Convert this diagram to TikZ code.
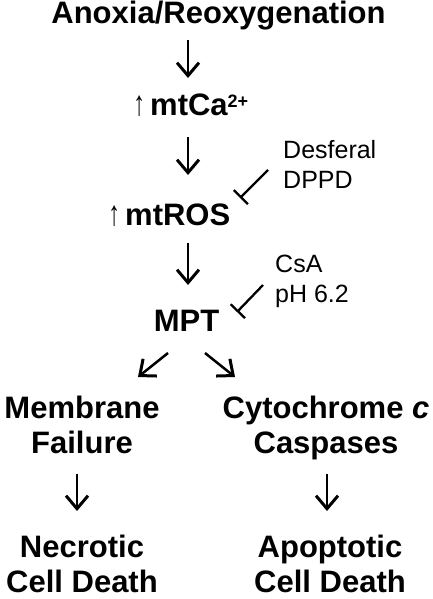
\documentclass[tikz,border=0pt]{standalone}
\usepackage{fontspec}
\setmainfont{Liberation Sans}
\usetikzlibrary{arrows.meta,calc}
\newcommand{\uparr}{\makebox[22pt][c]{\mdseries\scalebox{0.9}[1.35]{\fontsize{26}{28}\selectfont ↑}}}
\tikzset{
  bt/.style={font=\fontsize{31}{35}\selectfont\bfseries, inner sep=0pt, anchor=base},
  nt/.style={font=\fontsize{25}{30}\selectfont, inner sep=0pt, anchor=base west},
  arr/.style={line width=2.5pt, -{Straight Barb[length=13pt,width=22pt,line width=3pt]}},
  inh/.style={line width=2.3pt, -{Bar[width=20pt]}}
}
\begin{document}
\begin{tikzpicture}[x=1pt,y=-1pt]
\useasboundingbox (0,0) rectangle (433,599);
\node[bt] (anox) at (218.5,24) {Anoxia/Reoxygenation};
\node[bt, anchor=base west] (ca) at (128,115) {\uparr mtCa\raisebox{8pt}{\fontsize{18}{20}\selectfont 2+}};
\node[bt, anchor=base west] (ros) at (103,225) {\uparr mtROS};
\node[bt] (mpt) at (186.5,331) {MPT};
\node[nt] (des) at (283,158) {Desferal};
\node[nt] (dppd) at (283,188) {DPPD};
\node[nt] (csa) at (275,272) {CsA};
\node[nt] (ph) at (275,302) {pH 6.2};
\node[bt] (mem) at (82,418) {\begin{tabular}[t]{@{}c@{}}Membrane\\Failure\end{tabular}};
\node[bt] (cyt) at (326,418) {\begin{tabular}[t]{@{}c@{}}Cytochrome \textit{c}\\Caspases\end{tabular}};
\node[bt] (nec) at (82,557) {\begin{tabular}[t]{@{}c@{}}Necrotic\\Cell Death\end{tabular}};
\node[bt] (apo) at (330,557) {\begin{tabular}[t]{@{}c@{}}Apoptotic\\Cell Death\end{tabular}};
% main vertical arrows
\draw[arr] ($(anox.base -| mpt.base)+(1.5,16)$) -- ($(ca.base -| mpt.base)+(1.5,-37)$);
\draw[arr] ($(ca.base -| mpt.base)+(1.5,22)$) -- ($(ros.base -| mpt.base)+(1.5,-50)$);
\draw[arr] ($(ros.base -| mpt.base)+(1.5,18)$) -- ($(mpt.base)+(1.5,-46)$);
% diagonal arrows
\draw[arr] ($(mpt.base)+(-18.5,22)$) -- ($(mpt.base)+(-48.5,46)$);
\draw[arr] ($(mpt.base)+(18.5,22)$) -- ($(mpt.base)+(48.5,46)$);
% lower arrows
\draw[arr] ($(mem.base)+(-5,56)$) -- ($(nec.base)+(-5,-46)$);
\draw[arr] ($(cyt.base)+(1,56)$) -- ($(apo.base)+(-3,-46)$);
% inhibitors
\draw[inh] ($(dppd.base west)+(-15,-18)$) -- ($(ros.base west)+(137,-27)$);
\draw[inh] ($(ph.base west)+(-12,-17)$) -- ($(mpt.base)+(50.5,-19)$);
\end{tikzpicture}
\end{document}
